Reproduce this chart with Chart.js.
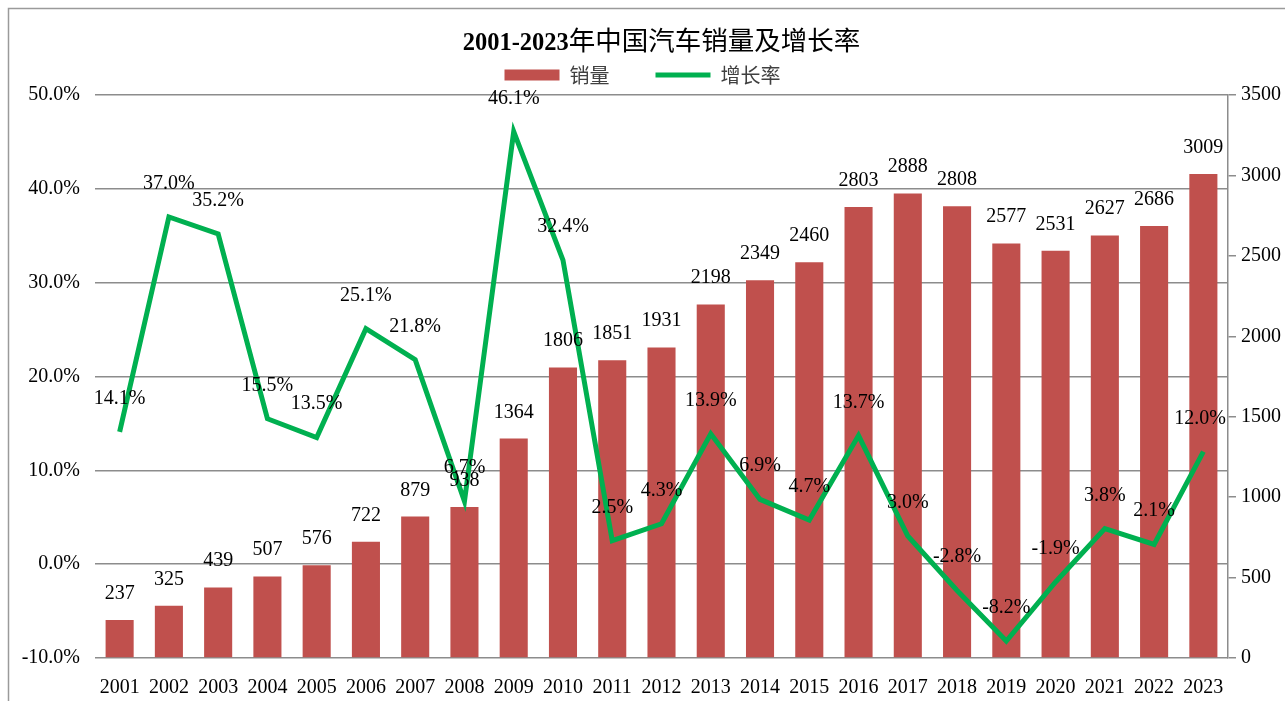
<!DOCTYPE html>
<html>
<head>
<meta charset="utf-8">
<title>2001-2023年中国汽车销量及增长率</title>
<script src="https://cdn.jsdelivr.net/npm/chart.js@4.4.1/dist/chart.umd.min.js"></script>
<style>
    html, body { margin: 0; padding: 0; background: #fff; }
    #wrap { position: relative; width: 1285px; height: 701px; }
</style>
</head>
<body>
<div id="wrap"><canvas id="sales-chart"></canvas></div>
<script>
// 年份
const years = ['2001', '2002', '2003', '2004', '2005', '2006', '2007', '2008', '2009', '2010', '2011', '2012',
    '2013', '2014', '2015', '2016', '2017', '2018', '2019', '2020', '2021', '2022', '2023'];
// 销量（万辆）
const salesData = [237, 325, 439, 507, 576, 722, 879, 938, 1364, 1806, 1851, 1931,
    2198, 2349, 2460, 2803, 2888, 2808, 2577, 2531, 2627, 2686, 3009];
// 增长率 (%)
const growthData = [14.1, 37.0, 35.2, 15.5, 13.5, 25.1, 21.8, 6.7, 46.1, 32.4, 2.5, 4.3,
    13.9, 6.9, 4.7, 13.7, 3.0, -2.8, -8.2, -1.9, 3.8, 2.1, 12.0];
const titleNum = '2001-2023';
const titleText = '年中国汽车销量及增长率';

const serif = '"Liberation Serif", "Times New Roman", serif';
const cjk = '"Noto Sans CJK SC", sans-serif';

// 外框 + 标题
const framePlugin = {
    id: 'frameTitle',
    beforeDraw(chart) {
        const ctx = chart.ctx;
        ctx.save();
        ctx.strokeStyle = '#9a9a9a';
        ctx.lineWidth = 1.5;
        ctx.strokeRect(8.5, 8.5, 1300, 720);
        ctx.restore();
    },
    afterDraw(chart) {
        const ctx = chart.ctx;
        const area = chart.chartArea;
        ctx.save();
        ctx.fillStyle = '#000';
        ctx.textBaseline = 'alphabetic';
        ctx.textAlign = 'left';
        ctx.font = 'bold 24.5px ' + serif;
        let w1 = ctx.measureText(titleNum).width;
        ctx.font = '26.5px ' + cjk;
        let w2 = ctx.measureText(titleText).width;
        let x = (area.left + area.right) / 2 - (w1 + w2) / 2;
        ctx.font = 'bold 24.5px ' + serif;
        ctx.fillText(titleNum, x, 50);
        ctx.font = '26.5px ' + cjk;
        ctx.fillText(titleText, x + w1, 50);
        ctx.restore();
    }
};

// 数据标签
const labelPlugin = {
    id: 'dataLabels',
    afterDatasetsDraw(chart) {
        const ctx = chart.ctx;
        const area = chart.chartArea;
        ctx.save();
        ctx.font = '20px ' + serif;
        ctx.fillStyle = '#000';
        ctx.textAlign = 'center';
        ctx.textBaseline = 'alphabetic';
        chart.getDatasetMeta(0).data.forEach((bar, i) => {
            ctx.fillText(String(salesData[i]), bar.x, bar.y - 21);
        });
        chart.getDatasetMeta(1).data.forEach((pt, i) => {
            let txt = growthData[i].toFixed(1) + '%';
            let w = ctx.measureText(txt).width;
            let x = pt.x;
            if (x + w / 2 > area.right - 2) {
                x = area.right - 2 - w / 2;
            }
            ctx.fillText(txt, x, pt.y - 28);
        });
        ctx.restore();
    }
};

const salesChartBox = document.querySelector('#sales-chart');
const salesChart = new Chart(salesChartBox, {
    data: {
        labels: years,
        datasets: [{
            type: 'bar',
            label: '销量',
            data: salesData,
            backgroundColor: '#C0504D',
            borderWidth: 0,
            yAxisID: 'y1',
            categoryPercentage: 1,
            barPercentage: 0.57,
            pointStyle: 'rect',
            order: 2
        }, {
            type: 'line',
            label: '增长率',
            data: growthData,
            borderColor: '#00B050',
            backgroundColor: '#00B050',
            borderWidth: 5,
            pointRadius: 0,
            pointHoverRadius: 0,
            tension: 0,
            pointStyle: 'line',
            yAxisID: 'y',
            order: 1
        }]
    },
    options: {
        responsive: true,
        maintainAspectRatio: false,
        animation: false,
        layout: {
            padding: { top: 16, left: 0, right: 0, bottom: 0 }
        },
        plugins: {
            title: { display: false },
            tooltip: { enabled: false },
            legend: {
                display: true,
                position: 'top',
                labels: {
                    sort: (a, b) => a.datasetIndex - b.datasetIndex,
                    usePointStyle: true,
                    pointStyleWidth: 55,
                    boxHeight: 11,
                    padding: 46,
                    color: '#404040',
                    font: { family: cjk, size: 20 }
                }
            }
        },
        scales: {
            x: {
                grid: { display: false },
                border: { display: false },
                ticks: {
                    color: '#000',
                    font: { family: serif, size: 20 },
                    padding: 10,
                    maxRotation: 0,
                    autoSkip: false
                },
                afterFit(axis) { axis.height = 43; }
            },
            y: {
                position: 'left',
                min: -10,
                max: 50,
                grid: {
                    color: '#8c8c8c',
                    lineWidth: 1.5,
                    drawTicks: false
                },
                border: { display: false },
                ticks: {
                    stepSize: 10,
                    color: '#000',
                    font: { family: serif, size: 20 },
                    padding: 15,
                    callback: v => v.toFixed(1) + '%'
                },
                afterFit(axis) {
                    axis.width = 95;
                    axis.paddingTop = 95;
                }
            },
            y1: {
                position: 'right',
                min: 0,
                max: 3500,
                grid: {
                    drawOnChartArea: false,
                    drawTicks: true,
                    tickLength: 8,
                    color: '#8c8c8c',
                    lineWidth: 1.5
                },
                border: { display: true, color: '#8c8c8c', width: 1.5 },
                ticks: {
                    stepSize: 500,
                    color: '#000',
                    font: { family: serif, size: 20 },
                    padding: 5,
                    callback: v => String(v)
                },
                afterFit(axis) { axis.width = 57; }
            }
        }
    },
    plugins: [framePlugin, labelPlugin]
});
</script>
</body>
</html>
